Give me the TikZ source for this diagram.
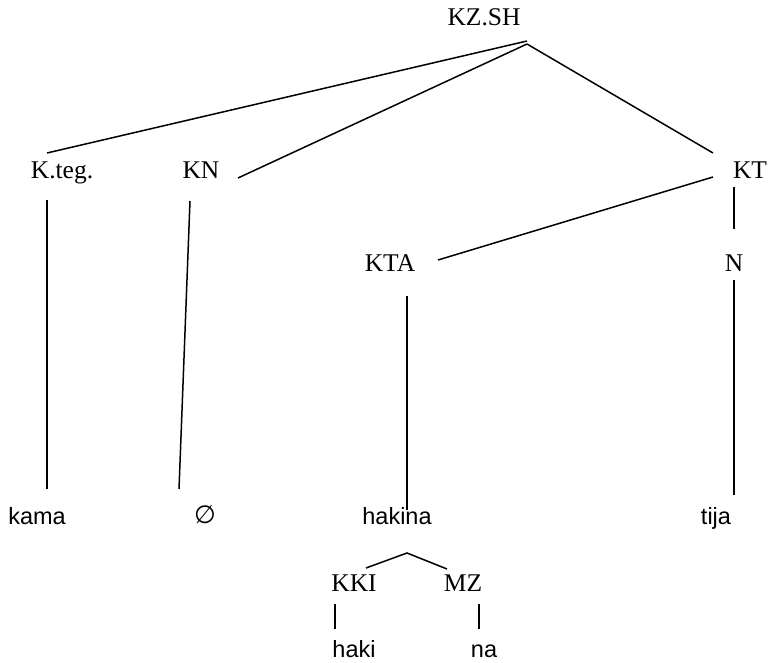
\documentclass[tikz,border=0pt]{standalone}
\usepackage{fontspec}
\setmainfont{Liberation Serif}
\setsansfont{Liberation Sans}
\newfontfamily\symfont{DejaVu Sans}
\usepackage{tikz}

\begin{document}
\begin{tikzpicture}[
    x=1pt, y=-1pt,
    cat/.style={inner sep=0pt, anchor=base, font=\fontsize{25.5}{29}\selectfont},
    word/.style={inner sep=0pt, anchor=base, font=\sffamily\fontsize{23.5}{28}\selectfont},
    branch/.style={line width=1.5pt, line cap=butt}
]
    \useasboundingbox (0,0) rectangle (771,663);

    % Nodes
    \node[cat] (kzsh) at (484,26) {KZ.SH};
    \node[cat] (kteg) at (62,179) {K.teg.};
    \node[cat] (kn) at (201,179) {KN};
    \node[cat] (kt) at (750,179) {KT};
    \node[cat] (kta) at (390,271) {KTA};
    \node[cat] (n) at (734,271) {N};
    \node[word] (kama) at (37,524) {kama};
    \node[inner sep=0pt, font=\symfont\fontsize{25}{28}\selectfont] (empty) at (205,515) {∅};
    \node[word] (hakina) at (397,524) {hakina};
    \node[word] (tija) at (716,524) {tija};
    \node[cat] (kki) at (354,591) {KKI};
    \node[cat] (mz) at (463,591) {MZ};
    \node[word] (haki) at (354,657) {haki};
    \node[word] (na) at (484,657) {na};

    % Branch ends
    \coordinate (root-a) at (527,41);
    \coordinate (root-b) at (527,44);
    \coordinate (kteg-up) at (47,153);
    \coordinate (kn-up) at (238,178);
    \coordinate (kt-up) at (713,153);
    \coordinate (kt-left) at (713,177);
    \coordinate (kt-down) at (734,187);
    \coordinate (kta-up) at (438,260);
    \coordinate (n-up) at (734,229);
    \coordinate (kteg-down) at (47,200);
    \coordinate (kama-up) at (47,489);
    \coordinate (kn-down) at (190,201);
    \coordinate (empty-up) at (179,489);
    \coordinate (kta-down) at (407,296);
    \coordinate (hakina-in) at (407,510);
    \coordinate (n-down) at (734,280);
    \coordinate (tija-up) at (734,495);
    \coordinate (hakina-down) at (407,553);
    \coordinate (kki-up) at (366,568);
    \coordinate (mz-up) at (447,569);
    \coordinate (kki-down) at (335,604);
    \coordinate (haki-up) at (335,629);
    \coordinate (mz-down) at (479,604);
    \coordinate (na-up) at (479,629);

    % Lines
    \draw[branch] (root-a) -- (kteg-up);
    \draw[branch] (root-b) -- (kn-up);
    \draw[branch] (root-b) -- (kt-up);
    \draw[branch] (kt-left) -- (kta-up);
    \draw[branch] (kt-down) -- (n-up);
    \draw[branch] (kteg-down) -- (kama-up);
    \draw[branch] (kn-down) -- (empty-up);
    \draw[branch] (kta-down) -- (hakina-in);
    \draw[branch] (n-down) -- (tija-up);
    \draw[branch] (kki-up) -- (hakina-down) -- (mz-up);
    \draw[branch] (kki-down) -- (haki-up);
    \draw[branch] (mz-down) -- (na-up);
\end{tikzpicture}
\end{document}
